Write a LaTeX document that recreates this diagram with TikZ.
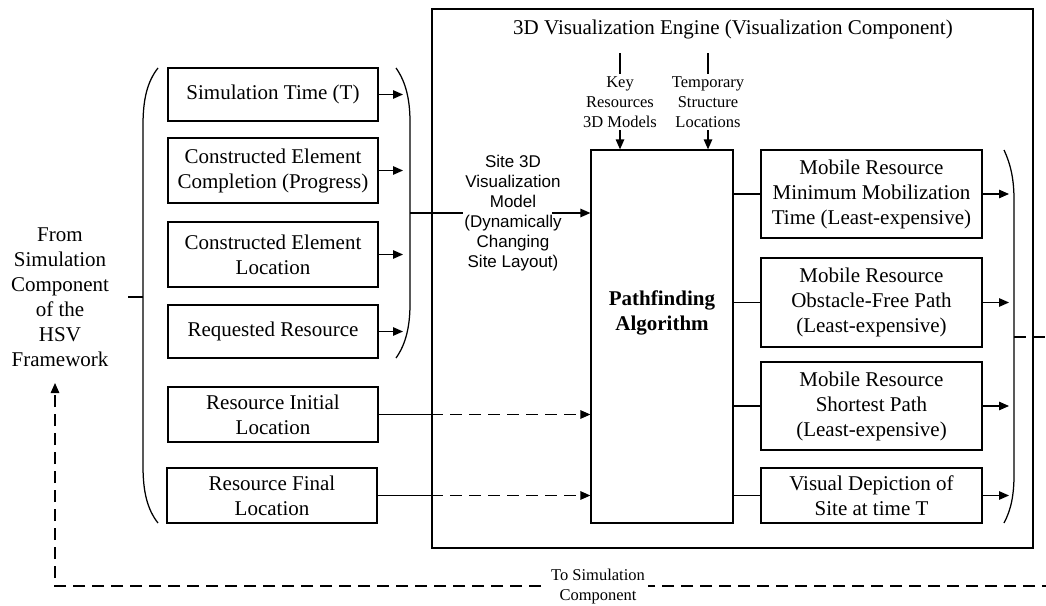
\documentclass[tikz,border=0pt]{standalone}
\usepackage{fontspec}
\setmainfont{Liberation Serif}
\setsansfont{Liberation Sans}
\usetikzlibrary{arrows.meta}
\newcommand\boxfnt{\fontsize{21}{25}\selectfont}
\newcommand\smlfnt{\fontsize{16.5}{20}\selectfont}
\newcommand\sansfnt{\sffamily\fontsize{17}{20}\selectfont}
\begin{document}
\begin{tikzpicture}[x=1pt,y=-1pt,line width=1.25pt,
  blk/.style={draw,align=center,font=\boxfnt,inner sep=0pt},
  lblk/.style={blk,minimum width=210pt},
  rblk/.style={blk,minimum width=221pt},
  arr/.style={-{Triangle[length=10pt,width=8.5pt]}},
  dsh/.style={dash pattern=on 12pt off 7pt}]
\useasboundingbox (0,0) rectangle (1046,605);

% visualization engine frame and title
\node[draw,minimum width=601pt,minimum height=539pt,inner sep=0pt] (eng) at (732.5,278.5) {};
\node[font=\boxfnt] (engT) at (733,29) {3D Visualization Engine (Visualization Component)};

% inputs from the simulation component
\node[lblk,minimum height=53pt] (simT) at (273,94.5) {Simulation Time (T)};
\node[lblk,minimum height=65pt] (ceComp) at (273,170.5) {Constructed Element\\Completion (Progress)};
\node[lblk,minimum height=65pt] (ceLoc) at (273,254.5) {Constructed Element\\Location};
\node[lblk,minimum height=53pt] (reqRes) at (273,331.5) {Requested Resource};
\node[lblk,minimum height=55pt] (resInit) at (273,414.5) {Resource Initial\\Location};
\node[lblk,minimum height=55pt] (resFinal) at (272,495.5) {Resource Final\\Location};

% left bracket and source label
\draw (158,68) .. controls (147,82) and (143,100) .. (143,125) -- (143,466)
      .. controls (143,491) and (147,509) .. (158,523);
\coordinate (lbT) at (143,297);
\coordinate (lbO) at (128,297);
\draw (lbT) -- (lbO);
\node[font=\boxfnt,align=center] (from) at (60,297) {From\\Simulation\\Component\\of the\\HSV\\Framework};

% bracket grouping the first four inputs
\draw (396,68) .. controls (406,82) and (410,100) .. (410,122) -- (410,304)
      .. controls (410,326) and (406,344) .. (396,358);
\coordinate (rb1) at (410,213);
\coordinate (rb1in) at (403,213);
\foreach \n in {simT,ceComp,ceLoc,reqRes}
  \draw[arr] (\n.east) -- (\n.east -| rb1in);

% pathfinding block
\node[draw,minimum width=142pt,minimum height=373pt,inner sep=0pt] (pf) at (662,336.5) {};
\node[font=\boxfnt\bfseries,align=center] (pfT) at (662,313) {Pathfinding\\Algorithm};

% site model feed
\node[font=\sansfnt,align=center] (site) at (513,213) {Site 3D\\Visualization\\Model\\(Dynamically\\Changing\\Site Layout)};
\coordinate (siteL) at (463,213);
\coordinate (siteR) at (552,213);
\draw (rb1) -- (siteL);
\draw[arr] (siteR) -- (siteR -| pf.west);

% top inputs
\node[font=\smlfnt,align=center,inner sep=2pt] (keyR) at (620,102) {Key\\Resources\\3D Models};
\coordinate (keyTop) at (620,53);
\draw (keyTop) -- (keyR.north);
\draw[arr] (keyR.south) -- (keyR.south |- pf.north);
\node[font=\smlfnt,align=center,inner sep=2pt] (tmpS) at (708,102) {Temporary\\Structure\\Locations};
\coordinate (tmpTop) at (708,53);
\draw (tmpTop) -- (tmpS.north);
\draw[arr] (tmpS.south) -- (tmpS.south |- pf.north);

% resource locations
\draw (resInit.east) -- (resInit.east -| eng.west);
\draw[arr,dsh] (resInit.east -| eng.west) -- (resInit.east -| pf.west);
\draw (resFinal.east) -- (resFinal.east -| eng.west);
\draw[arr,dsh] (resFinal.east -| eng.west) -- (resFinal.east -| pf.west);

% outputs
\node[rblk,minimum height=88pt] (mmt) at (871.5,194) {Mobile Resource\\Minimum Mobilization\\Time (Least-expensive)};
\node[rblk,minimum height=89pt] (ofp) at (871.5,302.5) {Mobile Resource\\Obstacle-Free Path\\(Least-expensive)};
\node[rblk,minimum height=88pt] (sp) at (871.5,406) {Mobile Resource\\Shortest Path\\(Least-expensive)};
\node[rblk,minimum height=55pt] (vd) at (871.5,495.5) {Visual Depiction of\\Site at time T};
\coordinate (rb2in) at (1009,337);
\foreach \n in {mmt,ofp,sp,vd}{
  \draw (pf.east |- \n.west) -- (\n.west);
  \draw[arr] (\n.east) -- (\n.east -| rb2in);
}
\draw (1004,150) .. controls (1011,165) and (1014,180) .. (1014,200) -- (1014,475)
      .. controls (1014,495) and (1011,510) .. (1004,523);

% feedback to the simulation component
\coordinate (rb2) at (1014,337);
\coordinate (fbR) at (1052,337);
\coordinate (fbRB) at (1052,586);
\coordinate (fbLB) at (55,586);
\coordinate (fbTip) at (55,383);
\draw[dsh,arr] (rb2) -- (fbR) -- (fbRB) -- (fbLB) -- (fbTip);
\node[font=\smlfnt,align=center,fill=white,inner xsep=3pt,inner ysep=0pt] (toSim) at (598,587) {To Simulation\\Component};
\end{tikzpicture}
\end{document}
